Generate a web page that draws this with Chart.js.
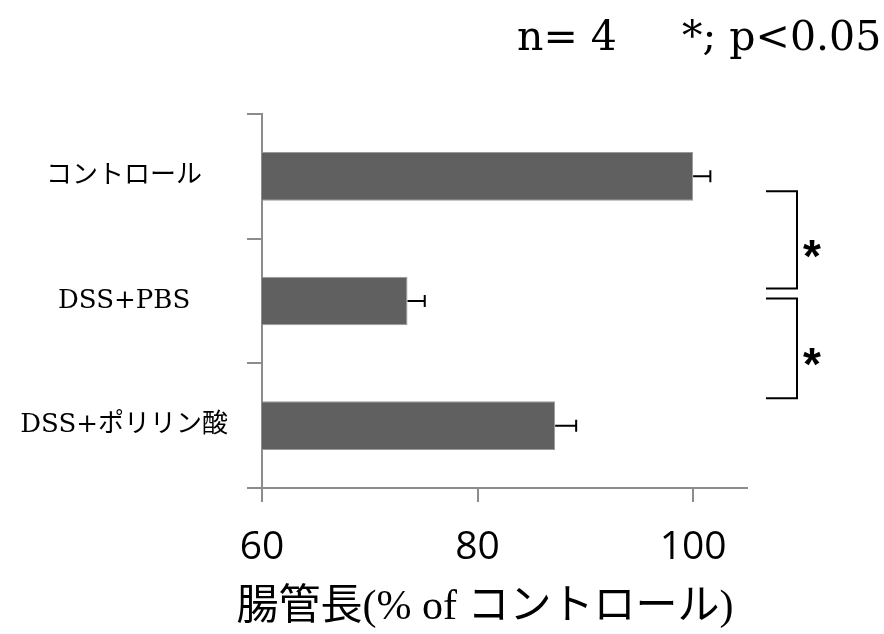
<!DOCTYPE html>
<html>
<head>
<meta charset="utf-8">
<script src="https://cdn.jsdelivr.net/npm/chart.js@4.4.1/dist/chart.umd.min.js"></script>
<style>
  html, body { margin: 0; padding: 0; background: #fff; }
  #wrap { width: 884px; height: 634px; }
</style>
</head>
<body>
<div id="wrap"><canvas id="chart"></canvas></div>
<script>
// Data
const categories = ["コントロール", "DSS+PBS", "DSS+ポリリン酸"];
const lengthValues = [100, 73.5, 87.2];   // % of control
const errorValues = [1.6, 1.6, 1.95];     // SE (plus side only)
const xTickValues = [60, 80, 100];
const xTitle = "腸管長(% of コントロール)";
const noteLeft = "n= 4";
const noteRight = "*; p<0.05";
// significance brackets, in category units (top, bottom)
const brackets = [[0.12, 0.9], [0.98, 1.78]];

const axisGray = '#8c8c8c';
const serifCJK = '"DejaVu Serif", "Noto Sans CJK JP", serif';

// error bars, brackets and the loose texts
const annotations = {
  id: 'annotations',
  afterDatasetsDraw(chart) {
    const { ctx, scales: { x, y } } = chart;
    ctx.save();
    ctx.strokeStyle = '#000';
    ctx.lineWidth = 2;

    lengthValues.forEach((v, i) => {
      const yc = y.getPixelForValue(i);
      const x0 = x.getPixelForValue(v);
      const x1 = x.getPixelForValue(v + errorValues[i]);
      ctx.beginPath();
      ctx.moveTo(x0, yc);
      ctx.lineTo(x1, yc);
      ctx.moveTo(x1, yc - 6);
      ctx.lineTo(x1, yc + 6);
      ctx.stroke();
    });

    // brackets with asterisks
    const bx0 = x.right + 19;
    const bx1 = x.right + 50;
    ctx.fillStyle = '#000';
    ctx.font = 'bold 46px "Liberation Sans", sans-serif';
    ctx.textAlign = 'center';
    ctx.textBaseline = 'alphabetic';
    brackets.forEach(([a, b]) => {
      const ya = y.getPixelForValue(a);
      const yb = y.getPixelForValue(b);
      ctx.beginPath();
      ctx.moveTo(bx0, ya);
      ctx.lineTo(bx1, ya);
      ctx.lineTo(bx1, yb);
      ctx.lineTo(bx0, yb);
      ctx.stroke();
      ctx.fillText('*', bx1 + 15, (ya + yb) / 2 + 32);
    });

    // note at the top right
    ctx.font = '41px "DejaVu Serif", serif';
    ctx.textAlign = 'left';
    ctx.fillText(noteLeft, 517, 50);
    ctx.fillText(noteRight, 682, 50);

    // x axis title
    ctx.font = '42px "Liberation Serif", "Noto Sans CJK JP", serif';
    ctx.textAlign = 'center';
    ctx.fillText(xTitle, 485, 619);
    ctx.restore();
  }
};

new Chart(document.getElementById('chart'), {
  type: 'bar',
  data: {
    labels: categories,
    datasets: [{
      data: lengthValues,
      backgroundColor: '#606060',
      borderColor: '#9a9a9a',
      borderWidth: 1,
      borderSkipped: false,
      categoryPercentage: 1,
      barPercentage: 0.39
    }]
  },
  options: {
    indexAxis: 'y',
    responsive: true,
    maintainAspectRatio: false,
    animation: false,
    devicePixelRatio: 1,
    layout: { padding: { top: 114, right: 137, left: 0, bottom: 0 } },
    plugins: {
      legend: { display: false },
      tooltip: { enabled: false }
    },
    scales: {
      x: {
        type: 'linear',
        min: 60,
        max: 105,
        border: { color: axisGray, width: 2 },
        grid: { drawOnChartArea: false, color: axisGray, lineWidth: 2, tickLength: 14 },
        ticks: {
          color: '#000',
          padding: 22,
          maxRotation: 0,
          font: { family: '"Open Sans", sans-serif', size: 39 }
        },
        afterBuildTicks(scale) {
          scale.ticks = xTickValues.map(v => ({ value: v }));
        },
        afterFit(scale) { scale.height = 146; }
      },
      y: {
        type: 'category',
        border: { color: axisGray, width: 2 },
        grid: { drawOnChartArea: false, offset: true, color: axisGray, lineWidth: 2, tickLength: 15 },
        ticks: {
          color: '#000',
          crossAlign: 'center',
          padding: 19,
          font: { family: serifCJK, size: 26 }
        },
        afterFit(scale) { scale.width = 262; }
      }
    }
  },
  plugins: [annotations]
});
</script>
</body>
</html>
